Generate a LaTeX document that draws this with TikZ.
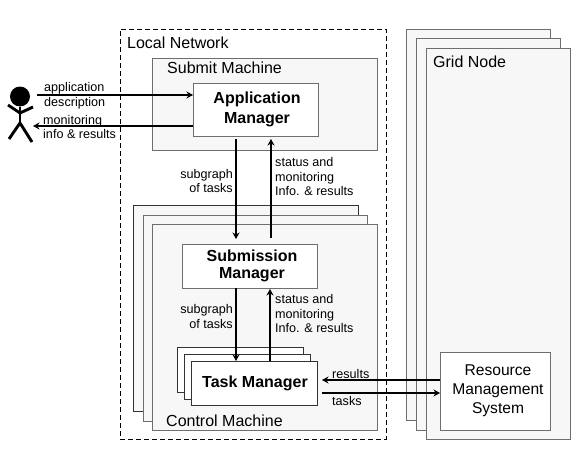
\documentclass[tikz,border=0pt]{standalone}
\usepackage{fontspec}
\setmainfont{Liberation Sans}
\usepackage{tikz}
\usetikzlibrary{arrows.meta,calc,positioning}
\definecolor{panelfill}{HTML}{F7F7F7}
\definecolor{paneledge}{HTML}{6E6E6E}
\tikzset{
  panel/.style 2 args={draw=paneledge,fill=panelfill,line width=0.8pt,anchor=north west,
    inner sep=0pt,outer sep=0pt,minimum width=#1,minimum height=#2},
  darkpanel/.style 2 args={panel={#1}{#2},draw=black!80},
  whitebox/.style 2 args={panel={#1}{#2},fill=white,align=center},
  title/.style={font=\fontsize{16}{18}\selectfont,anchor=west,inner sep=0pt},
  smalllabel/.style={font=\fontsize{12.6}{14.6}\selectfont,inner sep=0pt},
  boxtext/.style={font=\fontsize{16}{17.5}\selectfont\bfseries},
  limb/.style={line width=2.9pt}
}
\tikzstyle{arrow} = [line width=2.2pt,-{Stealth[length=6.5pt,width=7pt]}]
\begin{document}
\begin{tikzpicture}[x=1pt,y=-1pt]
  \useasboundingbox[fill=white] (0,0) rectangle (586,455);
  \node[draw,dash pattern=on 5pt off 3pt,line width=0.9pt,anchor=north west,minimum width=266,minimum height=410,
    inner sep=0pt,outer sep=0pt] (localnet) at (120,29) {};
  \node[title] (localtitle) at (127,43) {Local Network};

  \node[panel={225}{92}] (submit) at (152,58) {};
  \node[title] (submittitle) at (167,68) {Submit Machine};
  \node[whitebox={125}{53},boxtext] (appman) at (193,83) {\hspace*{3pt}Application\\[2.5pt]\hspace*{3pt}Manager};

  \node[darkpanel={225}{206}] (control1) at (133,205) {};
  \node[panel={224}{206}] (control2) at (143,215) {};
  \node[panel={225}{206}] (control) at (152,224) {};
  \node[title] (controltitle) at (166,421) {Control Machine};
  \node[whitebox={135}{44},boxtext] (subman) at (182,244) {\hspace*{5pt}Submission\\\hspace*{5pt}Manager};

  \node[darkpanel={126}{45},fill=white] (task1) at (177,347) {};
  \node[darkpanel={126}{45},fill=white] (task2) at (184,354) {};
  \node[darkpanel={126}{44},fill=white,boxtext] (taskman) at (191,361) {\hspace*{2pt}Task Manager};

  \node[panel={144}{391}] (grid1) at (406,29) {};
  \node[panel={144}{392}] (grid2) at (416,38) {};
  \node[panel={144}{391}] (grid) at (426,48) {};
  \node[title] (gridtitle) at (433,62) {Grid Node};
  \node[whitebox={110}{78},font=\fontsize{15.6}{19}\selectfont] (rms) at (440,352) {\hspace*{6pt}Resource\\\hspace*{6pt}Management\\\hspace*{6pt}System};

  \node[circle,fill=black,minimum size=20,inner sep=0pt] (head) at (20,96.5) {};
  \coordinate (hip) at (20,123);
  \coordinate (neck) at (20,113);
  \draw[limb] (head.south)--(hip);
  \draw[limb] (8,105)--(neck)--(33,107);
  \draw[limb] (9,139)--(hip)--(32,142);

  \coordinate (descstart) at (37,95);
  \coordinate (monend) at (33,126);
  \draw[arrow] (descstart)--(descstart -| appman.west);
  \draw[arrow] (monend -| appman.west)--(monend);
  \node[smalllabel,align=left,anchor=west] (desclabel) at (44,95.5) {application\\[0.4pt]description};
  \node[smalllabel,align=left,anchor=west] (monlabel) at (43,127) {monitoring\\info \& results};

  \coordinate (downa) at (236,139);
  \coordinate (upa) at (271,139);
  \draw[arrow] (downa)--($(downa |- subman.north)+(0,-5)$);
  \draw[arrow] ($(upa |- subman.north)+(0,-6)$)--(upa);
  \node[smalllabel,align=right,anchor=east] (subgrapha) at (233,181) {subgraph\\of tasks};
  \node[smalllabel,align=left,anchor=west] (statusa) at (275,176.5) {status and\\monitoring\\Info. \& results};

  \coordinate (downb) at (236,288);
  \coordinate (upb) at (270,289);
  \draw[arrow] (downb)--(downb |- taskman.north);
  \draw[arrow] (upb |- taskman.north)--(upb);
  \node[smalllabel,align=right,anchor=east] (subgraphb) at (233,316.5) {subgraph\\of tasks};
  \node[smalllabel,align=left,anchor=west] (statusb) at (275,313.5) {status and\\monitoring\\Info. \& results};

  \coordinate (resend) at (322,380);
  \coordinate (taskstart) at (322,393);
  \draw[arrow] (resend -| rms.west)--(resend);
  \draw[arrow] (taskstart)--(taskstart -| rms.west);
  \node[smalllabel,anchor=west] (reslabel) at (332,374) {results};
  \node[smalllabel,anchor=west] (taskslabel) at (332,401) {tasks};
\end{tikzpicture}
\end{document}
